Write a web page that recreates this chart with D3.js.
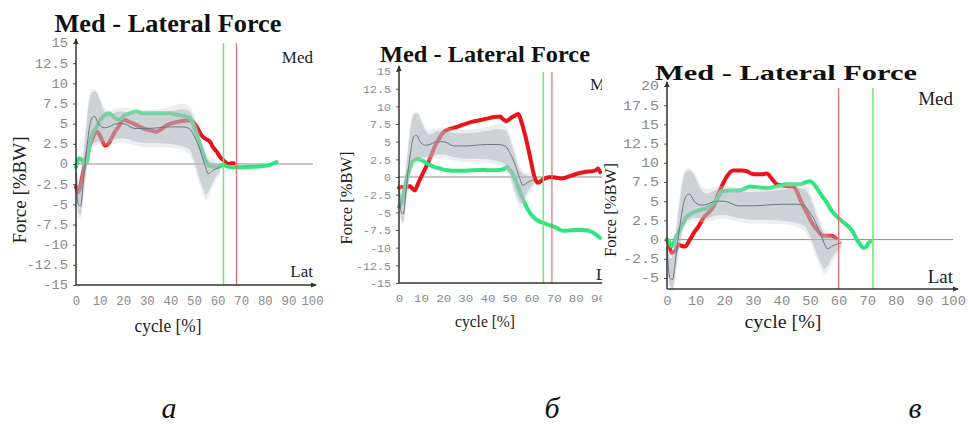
<!DOCTYPE html>
<html>
<head>
<meta charset="utf-8">
<script src="https://cdn.jsdelivr.net/npm/d3@7"></script>
<style>
  body { margin: 0; background: #fff; }
  svg { display: block; }
</style>
</head>
<body>
<script>
// normative band (same reference group in all three plots)
var normCycle = [0, 1, 2, 3, 4, 5, 6, 7, 8, 9, 10, 12, 14, 16, 18, 20, 25, 30, 35, 40, 45, 48, 50, 52, 54, 55, 56, 58, 60, 61];
var normMean  = [-1.0, -5.0, -5.2, -2.5, 0.5, 3.0, 5.0, 5.8, 5.9, 5.3, 4.8, 4.5, 4.6, 4.9, 5.0, 5.0, 4.4, 4.4, 4.5, 4.6, 4.6, 4.4, 3.5, 2.2, 0.4, -0.5, -1.2, -0.8, -0.5, -0.4];
var normUpper = [0.5, -2.5, -2.0, 0.5, 3.5, 6.5, 8.3, 8.9, 9.0, 8.7, 8.0, 6.5, 6.0, 6.3, 6.5, 6.5, 6.2, 6.2, 6.3, 6.5, 6.8, 6.6, 5.5, 3.5, 1.5, 0.8, 0.5, 0.2, 0.0, -0.2];
var normLower = [-2.5, -6.0, -6.3, -4.0, -1.5, 0.5, 2.0, 2.5, 2.6, 2.8, 2.8, 2.8, 2.8, 3.0, 3.2, 3.2, 2.8, 2.6, 2.6, 2.5, 2.2, 1.8, 0.5, -1.5, -3.2, -3.8, -3.5, -2.2, -1.3, -1.0];
var normOuterUpper = [1.0, -1.5, -1.0, 1.5, 4.5, 7.2, 8.8, 9.3, 9.3, 9.0, 8.4, 7.0, 6.6, 6.8, 6.9, 7.0, 6.8, 6.7, 6.8, 7.1, 7.5, 7.2, 6.2, 4.2, 2.2, 1.4, 1.0, 0.6, 0.3, 0.0];
var normOuterLower = [-3.0, -6.5, -6.8, -4.8, -2.2, 0.0, 1.5, 2.0, 2.2, 2.4, 2.4, 2.3, 2.3, 2.5, 2.7, 2.7, 2.3, 2.1, 2.1, 2.0, 1.7, 1.2, -0.2, -2.2, -4.0, -4.5, -4.2, -2.8, -1.8, -1.4];

// panel a
var aRed = [[0,-2.8],[1,-3.5],[2,-2.5],[3,-1],[4,0.3],[5,1.5],[6.6,2.9],[8,3.8],[9,4.0],[10,3.6],[11,3.0],[12.3,2.3],[13.7,2.5],[15,3.2],[16.5,4.0],[18,4.6],[20,5.5],[22,5.3],[24.3,5.0],[28.6,4.4],[31,4.2],[34,4.0],[36,4.3],[38.5,4.8],[42.7,5.2],[46,5.35],[48.4,5.4],[50,5.1],[51.2,4.6],[53.3,3.5],[55,3.1],[56.9,2.7],[58,2.1],[59.7,1.5],[61,0.9],[62.5,0.45],[64.6,0],[66,0.1],[66.8,0.1]];
var aGreen = [[0,-0.4],[0.5,0.3],[1.5,0.7],[2.5,0.5],[3.5,0],[4.5,0.2],[5.9,2.6],[7,3.8],[8.8,4.6],[10,5.3],[12,6.0],[13.7,6.3],[15.5,6.0],[17,5.6],[18.6,5.5],[20,5.9],[22.9,6.3],[25.7,6.5],[28,6.3],[32.7,6.3],[36,6.3],[39.8,6.3],[43,6.1],[46.2,5.9],[48.3,5.7],[49.5,5.0],[51,3.8],[52.5,2.5],[53.9,1.3],[55,0.4],[56,-0.1],[58,-0.3],[59.6,-0.4],[61,-0.3],[62.4,-0.1],[64,-0.3],[66.5,-0.4],[70,-0.4],[75,-0.35],[80.9,-0.2],[83,0],[85,0.25]];
var aMarks = { green: 62.5, red: 68 };

// panel b
var bRed = [[0,-1.5],[2,-1.4],[5,-1.3],[6,-1.6],[7.2,-1.9],[8.5,-1.0],[10.3,0.2],[12.5,1.6],[14.5,3.0],[16.3,4.4],[18.5,5.6],[20.8,6.5],[23,6.8],[25.3,7.0],[29,7.4],[32.9,7.8],[36,8.0],[40.3,8.3],[43,8.5],[45.7,8.55],[47,8.2],[48.7,7.9],[50,8.2],[51.7,8.55],[54,8.9],[55.5,7.7],[57,6.0],[58.5,4.0],[60,1.8],[61.5,-0.2],[63,-0.8],[65.3,-0.3],[69,0],[73.6,-0.2],[78,0.2],[81,0.5],[84,0.7],[88.7,0.9],[90,1.2],[91,0.7]];
var bGreen = [[0,-4.2],[1,-3.8],[2,-2.5],[3,-1.0],[3.8,0.2],[5,1.3],[6.5,2.3],[8.7,2.6],[10,2.4],[11.8,2.1],[14,1.7],[16,1.4],[18.6,1.2],[21,1.0],[24.6,0.9],[30,0.9],[36.7,1.0],[41,0.95],[45.7,1.0],[47.5,1.1],[48.7,1.4],[50,1.0],[51,0.7],[53,-0.7],[54.8,-2.1],[57,-3.8],[59.3,-5.1],[62,-6.0],[65.3,-6.5],[68,-6.8],[71.4,-7.2],[74,-7.6],[75.9,-7.6],[80,-7.5],[83.4,-7.5],[86,-7.6],[87.9,-7.9],[91,-8.6]];
var bMarks = { green: 65.3, red: 69.2 };

// panel c
var cRed = [[0,0],[0.5,-0.4],[1.6,-1.7],[2.8,-1.5],[4,-0.65],[5,-0.8],[6.3,-0.9],[8,0],[9.8,1.1],[11,1.7],[12.7,2.8],[14.5,3.5],[16.2,4.3],[17.5,5.5],[18.6,6.5],[20,7.6],[20.9,8.2],[23.2,9.0],[26,9.0],[27.9,8.9],[29.5,8.6],[31.4,8.5],[33,8.5],[34.9,8.6],[36.5,8.0],[38.4,7.2],[41,7.0],[44.2,6.9],[45.5,6.2],[46.6,5.2],[48.9,3.5],[50.5,2.3],[52.4,1.3],[53.5,0.8],[54.7,0.5],[57.6,0.5],[59,0.2]];
var cGreen = [[0,0],[1,-0.4],[1.6,-0.9],[3,0.2],[4.5,1.3],[5.7,2.2],[6.9,3.0],[8.5,3.4],[10.4,3.7],[12,3.9],[13.9,4.1],[15.5,4.5],[17.4,5.2],[18.3,5.8],[19.1,6.3],[22,6.4],[25.5,6.4],[27,6.6],[29,6.9],[32,6.8],[34.9,6.7],[38,6.9],[41.9,7.2],[44,7.2],[46.6,7.2],[48,7.4],[50,7.6],[51.2,7.3],[52.4,6.7],[54,5.8],[55.9,4.8],[57.5,3.8],[59.4,3.0],[61.5,2.3],[63.5,1.7],[65,1.0],[66.4,0],[67.5,-0.6],[68.7,-1.1],[69.7,-0.9],[70.5,-0.4],[71,-0.3]];
var cMarks = { green: 72, red: 60 };

// tick labels
var xTicks = [0, 10, 20, 30, 40, 50, 60, 70, 80, 90, 100];
var yTicksAB = [15, 12.5, 10, 7.5, 5, 2.5, 0, -2.5, -5, -7.5, -10, -12.5, -15];
var yTicksC = [20, 17.5, 15, 12.5, 10, 7.5, 5, 2.5, 0, -2.5, -5];
var panelLetters = ["а", "б", "в"];

var width = 968, height = 427;
var svg = d3.select("body").append("svg")
    .attr("width", width)
    .attr("height", height);

var serif = "'Liberation Serif', 'Times New Roman', serif";
var mono = "'Liberation Mono', 'DejaVu Sans Mono', monospace";

var panels = [
  { red: aRed, green: aGreen, marks: aMarks, yTicks: yTicksAB, yDom: [-15, 15],
    xr: [76, 312], yr: [285, 43], axisY: 285, axisTop: 39, xEnd: 316, zeroEnd: 313, markTop: 43,
    clip: null, ycw: 8.3, xcw: 7.4, tickFs: 12, xLabY: 305,
    title: { x: 168, y: 32, w: 227, fs: 25 },
    ylab: { x: 26, y: 190, w: 107, fs: 19 }, xlab: { x: 168, y: 332, w: 67, fs: 19 },
    med: { x: 313, y: 63, fs: 17 }, lat: { x: 313, y: 277, fs: 17 }, letter: 169 },
  { red: bRed, green: bGreen, marks: bMarks, yTicks: yTicksAB, yDom: [-15, 15],
    xr: [399, 620], yr: [283, 71], axisY: 283, axisTop: 66, xEnd: 640, zeroEnd: 640, markTop: 72,
    clip: [330, 602], ycw: 7, xcw: 7.5, tickFs: 11.5, xLabY: 303,
    title: { x: 485, y: 62, w: 210, fs: 24 },
    ylab: { x: 352, y: 198, w: 93, fs: 17 }, xlab: { x: 485, y: 327, w: 60, fs: 17 },
    med: { x: 590, y: 90, fs: 17, anchor: "start" }, lat: { x: 596, y: 280, fs: 17, anchor: "start" }, letter: 552 },
  { red: cRed, green: cGreen, marks: cMarks, yTicks: yTicksC, yDom: [-5, 20],
    xr: [667, 953], yr: [278, 86], axisY: 289, axisTop: 82, xEnd: 958, zeroEnd: 953, markTop: 88,
    clip: null, ycw: 9, xcw: 8.3, tickFs: 12, xLabY: 305,
    title: { x: 786, y: 80, w: 262, fs: 22 },
    ylab: { x: 616, y: 210, w: 94, fs: 17 }, xlab: { x: 783, y: 328, w: 77, fs: 18 },
    med: { x: 953, y: 105, fs: 19 }, lat: { x: 953, y: 283, fs: 19 }, letter: 915 }
];

var norm = normCycle.map(function(c, i) {
  return { c: c, m: normMean[i], lo: normLower[i], hi: normUpper[i], olo: normOuterLower[i], ohi: normOuterUpper[i] };
});

panels.forEach(function(p, pi) {
  var g = svg.append("g");
  if (p.clip) {
    svg.append("clipPath").attr("id", "clip" + pi)
      .append("rect").attr("x", p.clip[0]).attr("y", 0)
      .attr("width", p.clip[1] - p.clip[0]).attr("height", height);
    g.attr("clip-path", "url(#clip" + pi + ")");
  }

  var x = d3.scaleLinear().domain([0, 100]).range(p.xr);
  var y = d3.scaleLinear().domain(p.yDom).range(p.yr);

  // zero line
  g.append("line")
    .attr("x1", p.xr[0]).attr("x2", p.zeroEnd)
    .attr("y1", y(0)).attr("y2", y(0))
    .attr("stroke", "#8d8d8d").attr("stroke-width", 1);

  var line = d3.line()
    .x(function(d) { return x(d[0]); })
    .y(function(d) { return y(d[1]); })
    .curve(d3.curveMonotoneX);

  g.append("path").datum(p.red).attr("d", line)
    .attr("fill", "none").attr("stroke", "#e8141b").attr("stroke-width", 4)
    .attr("stroke-linejoin", "round").attr("stroke-linecap", "round");
  g.append("path").datum(p.green).attr("d", line)
    .attr("fill", "none").attr("stroke", "#2fe67c").attr("stroke-width", 4)
    .attr("stroke-linejoin", "round").attr("stroke-linecap", "round");

  // normative bands drawn over the curves, as in the original
  var outer = d3.area()
    .x(function(d) { return x(d.c); })
    .y0(function(d) { return y(d.olo); })
    .y1(function(d) { return y(d.ohi); })
    .curve(d3.curveMonotoneX);
  var inner = d3.area()
    .x(function(d) { return x(d.c); })
    .y0(function(d) { return y(d.lo); })
    .y1(function(d) { return y(d.hi); })
    .curve(d3.curveMonotoneX);
  g.append("path").datum(norm).attr("d", outer)
    .attr("fill", "#c9ced4").attr("opacity", 0.35);
  g.append("path").datum(norm).attr("d", inner)
    .attr("fill", "#a9b0b8").attr("opacity", 0.45);
  g.append("path").datum(norm)
    .attr("d", d3.line().x(function(d) { return x(d.c); }).y(function(d) { return y(d.m); }).curve(d3.curveMonotoneX))
    .attr("fill", "none").attr("stroke", "#6f7680").attr("stroke-width", 1);

  // toe-off markers
  g.append("line")
    .attr("x1", x(p.marks.green)).attr("x2", x(p.marks.green))
    .attr("y1", p.markTop).attr("y2", p.axisY)
    .attr("stroke", "#6ee86e").attr("stroke-width", 1.5);
  g.append("line")
    .attr("x1", x(p.marks.red)).attr("x2", x(p.marks.red))
    .attr("y1", p.markTop).attr("y2", p.axisY)
    .attr("stroke", "#e96a6a").attr("stroke-width", 1.2);

  // axes
  var yAxis = g.append("g")
    .attr("transform", "translate(" + p.xr[0] + ",0)")
    .call(d3.axisLeft(y).tickValues(p.yTicks).tickFormat(function(d) { return String(d); })
      .tickSize(3).tickSizeOuter(0).tickPadding(5));
  yAxis.select(".domain").remove();
  yAxis.selectAll(".tick line").attr("stroke", "#555");
  yAxis.selectAll("text")
    .attr("font-family", mono).attr("font-size", p.tickFs).attr("fill", "#8a8a8a")
    .attr("textLength", function(d) { return String(d).length * p.ycw; })
    .attr("lengthAdjust", "spacingAndGlyphs");

  var xAxis = g.append("g")
    .attr("transform", "translate(0," + p.axisY + ")")
    .call(d3.axisBottom(x).tickValues(xTicks).tickFormat(function(d) { return String(d); })
      .tickSize(0).tickSizeOuter(0).tickPadding(p.xLabY - p.axisY - 9));
  xAxis.select(".domain").remove();
  xAxis.selectAll("text")
    .attr("font-family", mono).attr("font-size", p.tickFs).attr("fill", "#8a8a8a")
    .attr("textLength", function(d) { return String(d).length * p.xcw; })
    .attr("lengthAdjust", "spacingAndGlyphs");

  g.append("line")
    .attr("x1", p.xr[0]).attr("x2", p.xr[0])
    .attr("y1", p.axisTop).attr("y2", p.axisY)
    .attr("stroke", "#333").attr("stroke-width", 1.5);
  g.append("line")
    .attr("x1", p.xr[0]).attr("x2", p.xEnd)
    .attr("y1", p.axisY).attr("y2", p.axisY)
    .attr("stroke", "#333").attr("stroke-width", 1.5);
  g.append("path")
    .attr("d", "M" + (p.xr[0] - 2.5) + "," + (p.axisTop + 5) + "L" + p.xr[0] + "," + (p.axisTop - 1) + "L" + (p.xr[0] + 2.5) + "," + (p.axisTop + 5) + "Z")
    .attr("fill", "#333");
  g.append("path")
    .attr("d", "M" + (p.xEnd - 5) + "," + (p.axisY - 2.5) + "L" + (p.xEnd + 1) + "," + p.axisY + "L" + (p.xEnd - 5) + "," + (p.axisY + 2.5) + "Z")
    .attr("fill", "#333");

  // texts
  g.append("text")
    .attr("x", p.title.x).attr("y", p.title.y)
    .attr("text-anchor", "middle")
    .attr("font-family", serif).attr("font-weight", "bold").attr("font-size", p.title.fs)
    .attr("textLength", p.title.w).attr("lengthAdjust", "spacingAndGlyphs")
    .attr("fill", "#111")
    .text("Med - Lateral Force");

  g.append("text")
    .attr("transform", "translate(" + p.ylab.x + "," + p.ylab.y + ") rotate(-90)")
    .attr("text-anchor", "middle")
    .attr("font-family", serif).attr("font-size", p.ylab.fs)
    .attr("textLength", p.ylab.w).attr("lengthAdjust", "spacingAndGlyphs")
    .attr("fill", "#222")
    .text("Force [%BW]");

  g.append("text")
    .attr("x", p.xlab.x).attr("y", p.xlab.y)
    .attr("text-anchor", "middle")
    .attr("font-family", serif).attr("font-size", p.xlab.fs)
    .attr("textLength", p.xlab.w).attr("lengthAdjust", "spacingAndGlyphs")
    .attr("fill", "#222")
    .text("cycle [%]");

  g.append("text")
    .attr("x", p.med.x).attr("y", p.med.y)
    .attr("text-anchor", p.med.anchor || "end")
    .attr("font-family", serif).attr("font-size", p.med.fs).attr("fill", "#222")
    .text("Med");
  g.append("text")
    .attr("x", p.lat.x).attr("y", p.lat.y)
    .attr("text-anchor", p.lat.anchor || "end")
    .attr("font-family", serif).attr("font-size", p.lat.fs).attr("fill", "#222")
    .text("Lat");

  svg.append("text")
    .attr("x", p.letter).attr("y", 418)
    .attr("text-anchor", "middle")
    .attr("font-family", serif).attr("font-style", "italic").attr("font-size", 30)
    .attr("fill", "#111")
    .text(panelLetters[pi]);
});
</script>
</body>
</html>
